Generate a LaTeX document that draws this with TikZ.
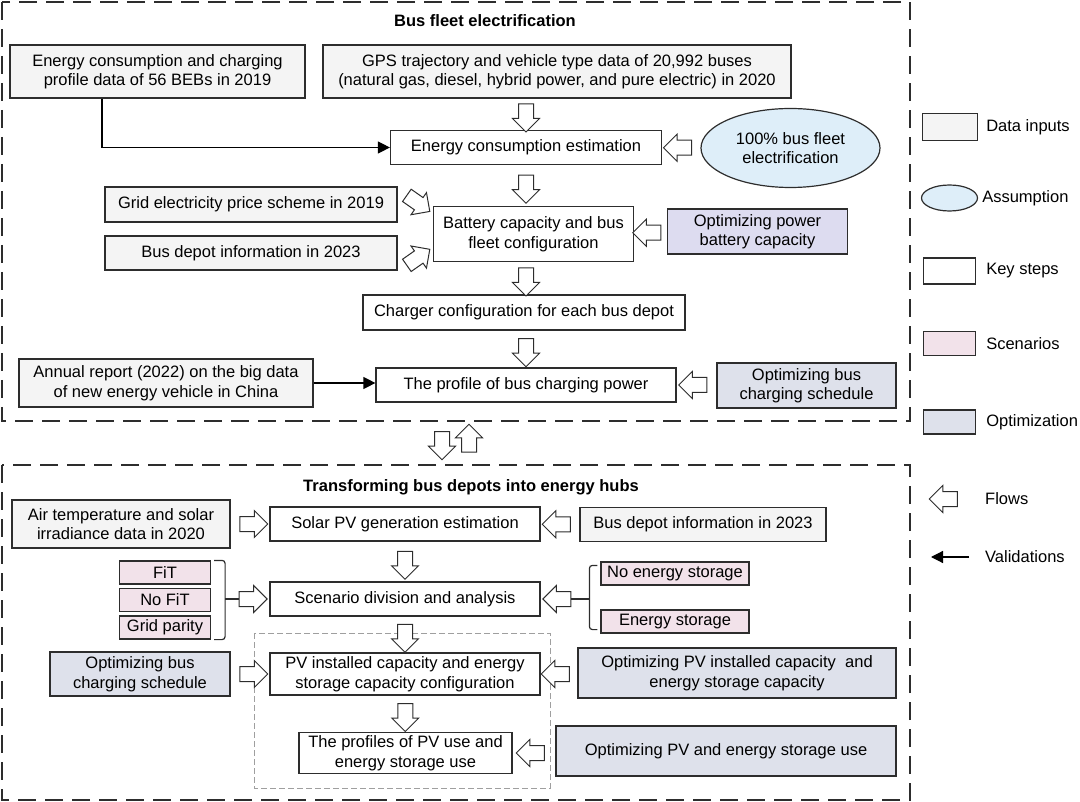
\documentclass[tikz,border=0pt]{standalone}
\usepackage{fontspec}
\setmainfont{Liberation Sans}
\usepackage{xcolor}
\usepackage{tikz}
\usetikzlibrary{positioning,calc,shapes.geometric,shapes.arrows,arrows.meta}
\definecolor{dataFill}{RGB}{244,244,244}
\definecolor{assumeFill}{RGB}{222,238,249}
\definecolor{scenFill}{RGB}{242,226,234}
\definecolor{optFill}{RGB}{222,225,235}
\definecolor{optPurple}{RGB}{221,220,240}
\definecolor{lineGray}{RGB}{45,45,45}
\tikzset{
    box/.style={
        rectangle,
        draw=lineGray,
        line width=1.2pt,
        fill=white,
        align=center,
        inner sep=2pt,
        font=\fontsize{16.5}{19.5}\selectfont
    },
    datain/.style={box, fill=dataFill},
    keystep/.style={box},
    scen/.style={box, fill=scenFill},
    optim/.style={box, fill=optFill},
    assume/.style={
        ellipse,
        draw=lineGray,
        line width=1.2pt,
        fill=assumeFill,
        align=center,
        inner sep=0pt,
        font=\fontsize{16.5}{19.5}\selectfont
    },
    flow/.style={
        single arrow,
        draw=lineGray,
        fill=white,
        line width=1pt,
        minimum height=28pt,
        single arrow head extend=6pt,
        inner xsep=0pt,
        inner ysep=7pt
    },
    valid/.style={
        -{Triangle[length=12pt,width=12pt]},
        line width=1.2pt
    },
    group/.style={draw=lineGray, line width=1.5pt, dash pattern=on 18pt off 9pt},
    subgroup/.style={draw=gray!75, line width=0.8pt, dash pattern=on 6pt off 3pt},
    brace/.style={draw=lineGray, line width=1.2pt, rounded corners=3pt},
    grouptitle/.style={font=\fontsize{16.5}{19.5}\selectfont\bfseries},
    legtext/.style={inner sep=0pt, font=\fontsize{16.5}{19.5}\selectfont}
}

\begin{document}
\begin{tikzpicture}[x=1pt, y=-1pt]
    \useasboundingbox (0,0) rectangle (1080,802);

    % Bus fleet electrification
    \draw[group] (2,2) rectangle (910,421);
    \node[grouptitle] (title1) at (485,21) {Bus fleet electrification};

    \node[datain, minimum width=295pt, minimum height=53pt] (a1) at (157.5,71.5)
        {Energy consumption and charging\\profile data of 56 BEBs in 2019};
    \node[datain, minimum width=468pt, minimum height=53pt] (a2) at (557,71.5)
        {GPS trajectory and vehicle type data of 20,992 buses\\(natural gas, diesel, hybrid power, and pure electric) in 2020};
    \node[keystep, minimum width=271pt, minimum height=34pt] (ece) at (526,147.5)
        {Energy consumption estimation};
    \node[assume, minimum width=179pt, minimum height=79pt] (full) at (790.5,148)
        {100\% bus fleet\\electrification};
    \node[datain, minimum width=292pt, minimum height=35pt] (price) at (251,204.5)
        {Grid electricity price scheme in 2019};
    \node[datain, minimum width=292pt, minimum height=34pt] (depot) at (251,253)
        {Bus depot information in 2023};
    \node[keystep, minimum width=200pt, minimum height=55pt] (batt) at (533.5,234)
        {Battery capacity and bus\\fleet configuration};
    \node[optim, fill=optPurple, minimum width=180pt, minimum height=45pt] (optpow) at (757.5,231.5)
        {Optimizing power\\battery capacity};
    \node[keystep, minimum width=322pt, minimum height=35pt] (charger) at (524,312.5)
        {Charger configuration for each bus depot};
    \node[datain, minimum width=294pt, minimum height=48pt] (annual) at (166,383)
        {Annual report (2022) on the big data\\of new energy vehicle in China};
    \node[keystep, minimum width=300pt, minimum height=34pt] (profile) at (526,385)
        {The profile of bus charging power};
    \node[optim, minimum width=179pt, minimum height=45pt] (optsch) at (806.5,385.5)
        {Optimizing bus\\charging schedule};

    \node[flow, rotate=-90] (f1) at ($(ece.north)!0.5!(ece.north |- a2.south)$) {};
    \node[flow, rotate=180] (f2) at ($(ece.east)!0.5!(full.west)$) {};
    \node[flow, rotate=-90] (f3) at ($(ece.south)!0.5!(ece.south |- batt.north)$) {};
    \node[flow, rotate=-35] (f4) at ($(price.east)!0.5!(batt.west)+(0,-18)$) {};
    \node[flow, rotate=35] (f5) at ($(depot.east)!0.5!(batt.west)+(0,16)$) {};
    \node[flow, rotate=180] (f6) at ($(batt.east)!0.5!(optpow.west)$) {};
    \node[flow, rotate=-90] (f7) at ($(ece.south |- batt.south)!0.5!(ece.south |- charger.north)$) {};
    \node[flow, rotate=-90] (f8) at ($(ece.south |- charger.south)!0.5!(ece.south |- profile.north)$) {};
    \node[flow, rotate=180] (f9) at ($(profile.east)!0.5!(profile.east -| optsch.west)$) {};

    \draw[valid] ([xshift=-55.5pt]a1.south) |- (ece.west);
    \draw[valid] (annual.east) -- (annual.east -| profile.west);

    % flows between the two parts
    \node[flow, rotate=-90] (down) at (442,442) {};
    \node[flow, rotate=90] (up) at (469,442) {};

    % Transforming bus depots into energy hubs
    \draw[group] (2,465) rectangle (910,800);
    \node[grouptitle] (title2) at (471,487) {Transforming bus depots into energy hubs};
    \draw[subgroup] (254,633) rectangle (550,788);

    \node[datain, minimum width=218pt, minimum height=48pt] (air) at (121,524)
        {Air temperature and solar\\irradiance data in 2020};
    \node[keystep, minimum width=270pt, minimum height=34pt] (solar) at (405,524)
        {Solar PV generation estimation};
    \node[datain, minimum width=246pt, minimum height=34pt] (depottwo) at (703,524.5)
        {Bus depot information in 2023};
    \node[scen, minimum width=91pt, minimum height=23pt, inner sep=0pt] (fit) at (165,572.5) {FiT};
    \node[scen, minimum width=91pt, minimum height=23pt, inner sep=0pt] (nofit) at (165,600) {No FiT};
    \node[scen, minimum width=91pt, minimum height=23pt, inner sep=0pt] (parity) at (165,627.5) {Grid parity};
    \node[keystep, minimum width=270pt, minimum height=34pt] (scenario) at (405,599)
        {Scenario division and analysis};
    \node[scen, minimum width=148pt, minimum height=23pt, inner sep=0pt] (noes) at (675,573.5) {No energy storage};
    \node[scen, minimum width=148pt, minimum height=23pt, inner sep=0pt] (es) at (675,621.5) {Energy storage};
    \node[optim, minimum width=180pt, minimum height=44pt] (optschtwo) at (140,674)
        {Optimizing bus\\charging schedule};
    \node[keystep, minimum width=270pt, minimum height=42pt] (pvcap) at (405,674)
        {PV installed capacity and energy\\storage capacity configuration};
    \node[optim, minimum width=318pt, minimum height=50pt] (optpv) at (737,673)
        {Optimizing PV installed capacity~~and\\energy storage capacity};
    \node[keystep, minimum width=213pt, minimum height=41pt] (uses) at (405.5,753)
        {The profiles of PV use and\\energy storage use};
    \node[optim, minimum width=340pt, minimum height=50pt] (optuse) at (726,751)
        {Optimizing PV and energy storage use};

    \node[flow] (f10) at ($(air.east)!0.5!(solar.west)$) {};
    \node[flow, rotate=180] (f11) at ($(solar.east)!0.5!(depottwo.west)$) {};
    \node[flow, rotate=-90] (f12) at ($(solar.south)!0.5!(scenario.north)$) {};
    \node[flow] (f13) at ([xshift=-20pt]scenario.west) {};
    \node[flow, rotate=180] (f14) at ([xshift=20pt]scenario.east) {};
    \node[flow, rotate=-90] (f15) at ($(scenario.south)!0.5!(pvcap.north)$) {};
    \node[flow] (f16) at ($(optschtwo.east)!0.5!(pvcap.west)$) {};
    \node[flow, rotate=180] (f17) at ($(pvcap.east)!0.5!(pvcap.east -| optpv.west)$) {};
    \node[flow, rotate=-90] (f18) at ($(pvcap.south)!0.5!(uses.north)$) {};
    \node[flow, rotate=180] (f19) at ($(uses.east)!0.5!(uses.east -| optuse.west)$) {};

    % brackets
    \draw[brace] ([xshift=3pt]fit.north east) -| ([xshift=14pt]parity.south east) -- ([xshift=3pt]parity.south east);
    \draw[brace] ([xshift=14pt]nofit.east |- f13.tail) -- (f13.tail);
    \draw[brace] ([xshift=-3pt,yshift=-4pt]noes.north west) -| ([xshift=-11pt,yshift=4pt]es.south west) -- ([xshift=-3pt,yshift=4pt]es.south west);
    \draw[brace] ([xshift=-11pt]noes.west |- f14.tail) -- (f14.tail);

    % legend
    \node[datain, minimum width=55pt, minimum height=27pt] (legdata) at (950,127) {};
    \node[legtext, right=8pt of legdata] (legdatatxt) {Data inputs};
    \node[assume, minimum width=56pt, minimum height=26pt] (legassume) at (949.5,198) {};
    \node[legtext, right=4pt of legassume] (legassumetxt) {Assumption};
    \node[keystep, minimum width=52pt, minimum height=26pt] (legkey) at (949.5,271) {};
    \node[legtext, right=10pt of legkey] (legkeytxt) {Key steps};
    \node[scen, minimum width=52pt, minimum height=24pt] (legscen) at (949.5,343.5) {};
    \node[legtext, right=10pt of legscen] (legscentxt) {Scenarios};
    \node[optim, minimum width=52pt, minimum height=24pt] (legopt) at (949.5,422) {};
    \node[legtext, right=10pt of legopt] (legopttxt) {Optimization};
    \node[flow, rotate=180] (legflow) at (947,499) {};
    \node[legtext, anchor=west] (legflowtxt) at (985,499) {Flows};
    \node[legtext, anchor=west] (legvalidtxt) at (985,557) {Validations};
    \coordinate (legva) at (969,557);
    \coordinate (legvb) at (931,557);
    \draw[valid] (legva) -- (legvb);
\end{tikzpicture}
\end{document}
